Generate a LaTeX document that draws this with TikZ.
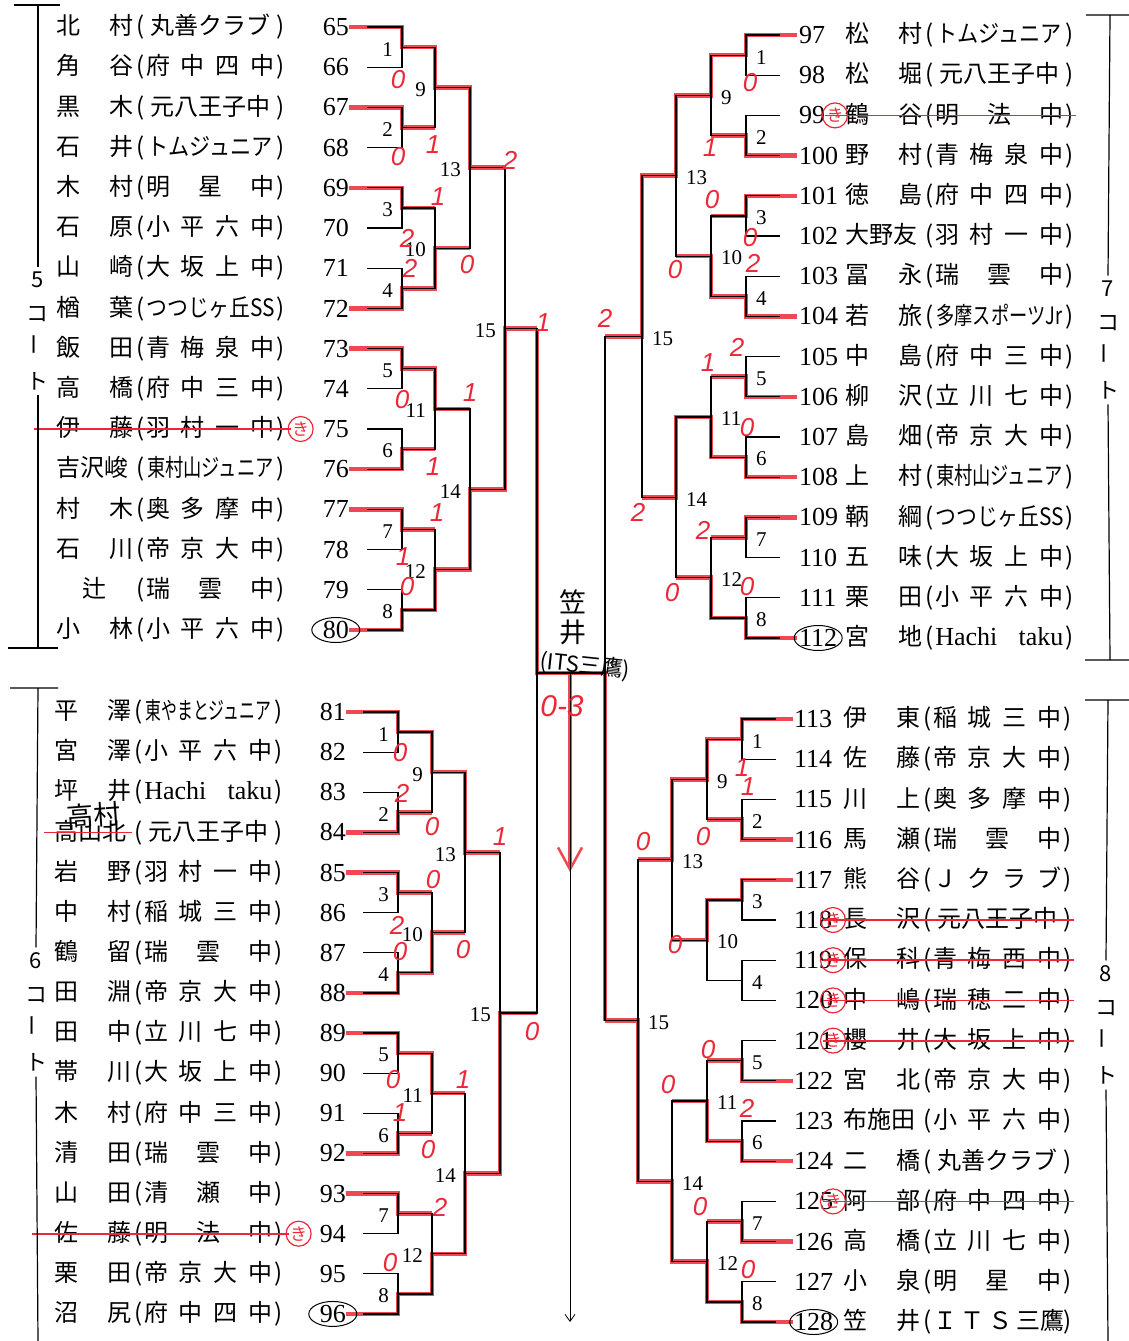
\documentclass[tikz,border=0pt]{standalone}
\usepackage{fontspec}
\usepackage{graphicx}
\setmainfont{Liberation Serif}
\newfontfamily\jp{Noto Sans CJK JP}
\newfontfamily\hand{Liberation Sans}
\usetikzlibrary{shapes.geometric, arrows.meta}
\definecolor{pen}{RGB}{235,40,55}
\definecolor{marker}{RGB}{240,72,82}
\tikzstyle{bline} = [line width=1.2pt, black]
\tikzstyle{win} = [line width=4.5pt, marker]
\tikzstyle{num} = [inner sep=0pt, font=\fontsize{26}{26}\selectfont]
\tikzstyle{entry} = [inner sep=0pt, anchor=west, font=\jp\fontsize{24}{24}\selectfont]
\tikzstyle{mlab} = [inner sep=0pt, yshift=-2pt, font=\fontsize{21}{21}\selectfont]
\tikzstyle{left} = [anchor=east, xshift=-9pt]
\tikzstyle{right} = [anchor=west, xshift=10pt]
\tikzstyle{score} = [inner sep=0pt, text=pen, font=\hand\itshape\fontsize{26}{26}\selectfont]
\tikzstyle{oval} = [ellipse, draw, line width=1pt, minimum width=48pt, minimum height=25pt, inner sep=0pt]
\tikzstyle{kiken} = [circle, draw=pen, line width=1.2pt, text=pen, minimum size=25pt, inner sep=0pt, font=\jp\fontsize{17}{17}\selectfont]
\tikzstyle{strike} = [pen, line width=1.8pt]
\tikzstyle{court} = [align=center, inner sep=0pt, font=\jp\fontsize{22}{34}\selectfont]
\tikzstyle{cline} = [line width=1.2pt]
\tikzstyle{hw} = [inner sep=0pt, align=center, font=\jp\fontsize{27}{30}\selectfont]

\newcommand{\ent}[2]{\makebox[77pt][s]{#1}\hspace{3pt}(\hspace{2pt}\makebox[128pt][s]{#2}\hspace{2pt})}
\newcommand{\sq}[2]{\hfil\scalebox{#1}[1]{#2}\hfil}
\newcommand{\makequad}[9]{%
  \foreach \row in {1,...,16}{
    \coordinate (#1-e\row) at (#4, {#2+(\row-1)*#3});
    \coordinate (#1-p\row) at (#5, {#2+(\row-1)*#3});}
  \foreach \m in {1,...,8}
    \coordinate (#1-m\m) at (#6, {#2+(2*\m-1.5)*#3});
  \foreach \m in {9,...,12}
    \coordinate (#1-m\m) at (#7, {#2+(4*(\m-8)-2.5)*#3});
  \foreach \m in {13,14}
    \coordinate (#1-m\m) at (#8, {#2+(8*(\m-12)-4.5)*#3});
  \coordinate (#1-m15) at (#9, {#2+7.5*#3});}
\newcommand{\drawquad}[2]{%
  \foreach \m in {1,...,8}{
    \pgfmathtruncatemacro{\ca}{2*\m-1}
    \pgfmathtruncatemacro{\cb}{2*\m}
    \draw[bline] (#1-p\ca) -| (#1-m\m) |- (#1-p\cb);}
  \foreach \m in {9,...,15}{
    \pgfmathtruncatemacro{\ca}{2*\m-17}
    \pgfmathtruncatemacro{\cb}{2*\m-16}
    \draw[bline] (#1-m\ca) -| (#1-m\m) |- (#1-m\cb);}
  \foreach \m in {1,...,15}
    \node (#1-l\m) [mlab, #2] at (#1-m\m) {\m};}
\newcommand{\wins}[2]{%
  \foreach \m/\w in {#2}{
    \pgfmathtruncatemacro{\pp}{8+int((\m+1)/2)}
    \draw[win] (#1-\w) -| (#1-m\m) -- (#1-m\m -| #1-m\pp);}}
\newcommand{\makerows}[8]{%
  \foreach \nm/\sc [count=\row] in {#8}{
    \pgfmathtruncatemacro{\nn}{#4+\row-1}
    \node (#1-k\row) [num, anchor=#6] at (#5, {#2+(\row-1)*#3}) {\nn};
    \node (#1-n\row) [entry] at (#7, {#2+(\row-1)*#3}) {\ent{\nm}{\sc}};}}

\begin{document}
\begin{tikzpicture}[x=1pt, y=-1pt]
\useasboundingbox (0,0) rectangle (1129,1341);
\makequad{A}{27}{40.2}{349}{367}{402}{435}{470}{505}
\makequad{B}{712}{40.13}{346}{363}{398}{432}{465}{500}
\makequad{C}{35}{40.2}{797}{780}{746}{711}{676}{642}
\makequad{D}{719}{40.2}{793}{776}{742}{707}{672}{638}
\coordinate (A-m16) at (537,673);
\coordinate (B-m16) at (537,673);
\coordinate (C-m16) at (605,673);
\coordinate (D-m16) at (605,673);
\coordinate (ctr) at (570,673);
\coordinate (rtip) at (570,872);
\coordinate (tip) at (570,1322);

\wins{A}{1/e1,2/e3,3/e5,4/e8,5/e9,6/e12,7/e13,8/e16,9/m1,10/m4,11/m5,12/m8,13/m9,14/m12,15/m14}
\wins{B}{1/e1,2/e4,3/e5,4/e8,5/e9,6/e12,7/e13,8/e16,9/m1,10/m4,11/m5,12/m8,13/m9,14/m12,15/m14}
\wins{C}{1/e1,2/e4,3/e5,4/e8,5/e10,6/e12,7/e13,8/e16,9/m1,10/m4,11/m6,12/m8,13/m9,14/m11,15/m13}
\wins{D}{1/e1,2/e4,3/e5,5/e10,6/e12,7/e14,8/e16,9/m1,10/m3,11/m6,12/m8,13/m9,14/m12,15/m14}
\draw[win] (A-m15 -| A-m16) -- (A-m16) -- (C-m16) -- (D-m15 -| D-m16);
\draw[win, -{Straight Barb[length=22pt, width=24pt, line width=2.5pt]}] (ctr) -- (rtip);

\drawquad{A}{left}
\drawquad{B}{left}
\drawquad{C}{right}
\drawquad{D}{right}
\draw[bline] (A-m15) -| (A-m16) |- (B-m15);
\draw[bline] (C-m15) -| (C-m16) |- (D-m15);
\draw[bline] (A-m16) -- (C-m16);
\draw[bline, line width=0.8pt, -{Straight Barb[length=7pt, width=10pt]}] (ctr) -- (tip);

\makerows{A}{27}{40.2}{65}{349}{east}{56}{北 村/\hfil 丸善クラブ\hfil, 角 谷/府 中 四 中, 黒 木/\hfil 元八王子中\hfil, 石 井/{\sq{.88}{トムジュニア}}, 木 村/明 星 中, 石 原/小 平 六 中, 山 崎/大 坂 上 中, 楢 葉/{\sq{.87}{つつじヶ丘SS}}, 飯 田/青 梅 泉 中, 高 橋/府 中 三 中, 伊 藤/羽 村 一 中, 吉沢峻/{\sq{.76}{東村山ジュニア}}, 村 木/奥 多 摩 中, 石 川/帝 京 大 中, \hfill 辻\hfill/瑞 雲 中, 小 林/小 平 六 中}
\makerows{B}{712}{40.13}{81}{346}{east}{54}{平 澤/{\sq{.66}{東やまとジュニア}}, 宮 澤/小 平 六 中, 坪 井/{\rmfamily\fontsize{26}{26}\selectfont Hachi taku}, 高山北/\hfil 元八王子中\hfil, 岩 野/羽 村 一 中, 中 村/稲 城 三 中, 鶴 留/瑞 雲 中, 田 淵/帝 京 大 中, 田 中/立 川 七 中, 帯 川/大 坂 上 中, 木 村/府 中 三 中, 清 田/瑞 雲 中, 山 田/清 瀬 中, 佐 藤/明 法 中, 栗 田/帝 京 大 中, 沼 尻/府 中 四 中}
\makerows{C}{35}{40.2}{97}{799}{west}{845}{松 村/{\sq{.88}{トムジュニア}}, 松 堀/\hfil 元八王子中\hfil, 鶴 谷/明 法 中, 野 村/青 梅 泉 中, 徳 島/府 中 四 中, 大野友/羽 村 一 中, 冨 永/瑞 雲 中, 若 旅/{\sq{.76}{多摩スポーツJr}}, 中 島/府 中 三 中, 柳 沢/立 川 七 中, 島 畑/帝 京 大 中, 上 村/{\sq{.76}{東村山ジュニア}}, 鞆 綱/{\sq{.87}{つつじヶ丘SS}}, 五 味/大 坂 上 中, 栗 田/小 平 六 中, 宮 地/{\rmfamily\fontsize{26}{26}\selectfont Hachi taku}}
\makerows{D}{719}{40.2}{113}{794}{west}{843}{伊 東/稲 城 三 中, 佐 藤/帝 京 大 中, 川 上/奥 多 摩 中, 馬 瀬/瑞 雲 中, 熊 谷/Ｊ ク ラ ブ, 長 沢/\hfil 元八王子中\hfil, 保 科/青 梅 西 中, 中 嶋/瑞 穂 二 中, 櫻 井/大 坂 上 中, 宮 北/帝 京 大 中, 布施田/小 平 六 中, 二 橋/\hfil 丸善クラブ\hfil, 阿 部/府 中 四 中, 高 橋/立 川 七 中, 小 泉/明 星 中, 笠 井/Ｉ Ｔ Ｓ 三鷹}

\node (A-o) [oval] at (A-k16) {};
\node (B-o) [oval] at (B-k16) {};
\node (C-o) [oval] at (C-k16) {};
\node (D-o) [oval] at (D-k16) {};

\foreach \q/\r in {A/11, B/14}{
  \draw[strike] ([xshift=-22pt]\q-n\r.west) -- ([xshift=6pt]\q-n\r.east);
  \node (\q-x\r) [kiken] at ([xshift=16pt]\q-n\r.east) {き};}
\foreach \q/\r in {C/3, D/6, D/7, D/8, D/9, D/13}{
  \draw[strike] ([xshift=-20pt]\q-n\r.west) -- ([xshift=2pt]\q-n\r.east);
  \node (\q-x\r) [kiken] at ([xshift=-10pt]\q-n\r.west) {き};}
\draw[strike] ([xshift=-10pt]B-n4.west) -- ([xshift=78pt]B-n4.west);
\node (B-h4) [hw, rotate=4] at ([xshift=40pt, yshift=17pt]B-n4.west) {高村};

\node (c5) [court] at (38,331) {5\\コ\\\rotatebox{90}{ー}\\ト};
\node (c6) [court] at (36,1012) {6\\コ\\\rotatebox{90}{ー}\\ト};
\node (c7) [court] at (1108,340) {7\\コ\\\rotatebox{90}{ー}\\ト};
\node (c8) [court] at (1106,1025) {8\\コ\\\rotatebox{90}{ー}\\ト};
\draw[cline] (14,5) -- (60,5) (38,5) -- ([yshift=5pt]c5.north);
\draw[cline] ([yshift=-5pt]c5.south) -- (38,648) (8,648) -- (58,648);
\draw[cline] (10,688) -- (58,688) (38,688) -- ([yshift=5pt]c6.north);
\draw[cline] ([yshift=-5pt]c6.south) -- (38,1341);
\draw[cline] (1086,15) -- (1129,15) (1110,15) -- ([yshift=5pt]c7.north);
\draw[cline] ([yshift=-5pt]c7.south) -- (1110,660) (1085,660) -- (1129,660);
\draw[cline] (1085,700) -- (1129,700) (1108,700) -- ([yshift=5pt]c8.north);
\draw[cline] ([yshift=-5pt]c8.south) -- (1108,1341);

\node (fin) [hw] at (573,617) {笠\\井};
\node (finc) [hw, rotate=-6, font=\jp\fontsize{22}{22}\selectfont] at (585,666) {(ITS三鷹)};
\node (fsc) [score, font=\hand\itshape\fontsize{30}{30}\selectfont] at (562,706) {0-3};

\foreach \x/\y/\t [count=\i] in {398/80/0, 398/157/0, 433/145/1, 510/160/2, 438/197/1, 407/238/2, 410/268/2, 467/265/0, 402/400/0, 470/393/1, 433/467/1, 437/513/1, 403/557/1, 407/587/0, 543/323/1,
  400/753/0, 402/793/2, 432/827/0, 500/837/1, 433/880/0, 397/925/2, 400/952/0, 463/950/0, 393/1080/0, 400/1113/1, 463/1080/1, 428/1150/0, 440/1207/2, 390/1263/0, 532/1032/0,
  750/83/0, 710/148/1, 712/200/0, 750/238/0, 753/263/2, 675/270/0, 605/318/2, 708/363/1, 737/347/2, 747/428/0, 638/512/2, 703/530/2, 672/593/0, 747/587/0,
  742/768/1, 748/787/1, 703/837/0, 643/842/0, 675/945/0, 708/1050/0, 668/1085/0, 747/1108/2, 700/1207/0, 748/1270/0}
  \node (s\i) [score] at (\x,\y) {\t};
\end{tikzpicture}
\end{document}
